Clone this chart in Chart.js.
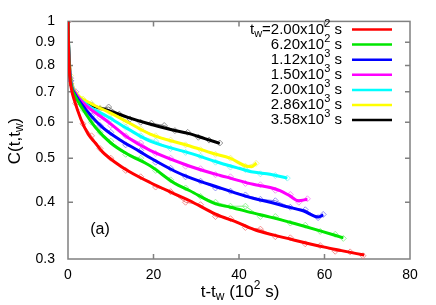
<!DOCTYPE html>
<html>
<head>
<meta charset="utf-8">
<script src="https://cdn.jsdelivr.net/npm/chart.js@4.4.1/dist/chart.umd.min.js"></script>
<style>
  html, body { margin: 0; padding: 0; background: #fff; }
  #wrap { width: 436px; height: 305px; }
</style>
</head>
<body>
<div id="wrap"><canvas id="corr"></canvas></div>
<script>
// waiting times (legend) and colours
const twMantissa = ["2.00x10", "6.20x10", "1.12x10", "1.50x10", "2.00x10", "2.86x10", "3.58x10"];
const twExponent = ["2", "2", "3", "3", "3", "3", "3"];
const lineColors = ["#ff0000", "#00e600", "#0000ff", "#ff00ff", "#00ffff", "#ffff00", "#000000"];
const dataColors = ["#f07878", "#80f080", "#7878f0", "#f080f0", "#80f0f0", "#f0f080", "#787878"];

const xTicks = [0, 20, 40, 60, 80];
const yTicks = [0.3, 0.4, 0.5, 0.6, 0.7, 0.8, 0.9, 1];

// fitted curves [t-tw (10^2 s), C]
const redFit = [[0,1],[0.15,0.86],[0.4,0.76],[0.8,0.71],[1.5,0.67],[3,0.61],[4.7,0.565],[6.4,0.54],[8,0.517],[11,0.49],[14.2,0.468],[19.2,0.442],[25,0.417],[28.5,0.403],[34.4,0.377],[40,0.36],[44,0.347],[48,0.339],[53,0.33],[59.7,0.319],[64,0.313],[69.3,0.306]];
const greenFit = [[0,1],[0.15,0.87],[0.4,0.77],[0.8,0.72],[1.5,0.69],[3.3,0.645],[6.4,0.585],[10,0.54],[14,0.51],[19.2,0.481],[25,0.44],[28.5,0.424],[34.4,0.397],[38,0.39],[43.7,0.378],[47.3,0.371],[53,0.359],[59,0.346],[64.4,0.334]];
const blueFit = [[0,1],[0.15,0.87],[0.4,0.77],[0.8,0.72],[1.5,0.695],[3.3,0.655],[8,0.585],[12,0.55],[16.8,0.517],[19.2,0.501],[25,0.468],[28.5,0.453],[35.6,0.43],[37.9,0.423],[43.3,0.408],[47.3,0.4],[51.2,0.391],[55,0.383],[58.6,0.371],[59.7,0.375]];
const magentaFit = [[0,1],[0.15,0.87],[0.4,0.78],[0.8,0.725],[1.5,0.7],[3.3,0.665],[9.4,0.601],[14,0.555],[19.2,0.52],[28.5,0.48],[35.6,0.458],[37.9,0.452],[43.3,0.438],[47.3,0.431],[49.6,0.424],[51.9,0.413],[53.9,0.403],[56,0.406]];
const cyanFit = [[0,1],[0.15,0.88],[0.4,0.78],[0.8,0.73],[1.5,0.7],[2.3,0.682],[5,0.65],[9.4,0.616],[14,0.58],[19.2,0.545],[28.5,0.513],[35.6,0.488],[40,0.475],[43.3,0.466],[47.3,0.461],[51.3,0.452]];
const yellowFit = [[0,1],[0.15,0.88],[0.4,0.79],[0.8,0.735],[1.5,0.705],[2.3,0.688],[5,0.662],[9.4,0.632],[14,0.6],[19.2,0.565],[28.5,0.532],[34,0.512],[37.9,0.5],[41.8,0.48],[43,0.479],[44.1,0.488]];
const blackFit = [[0,1],[0.15,0.88],[0.4,0.79],[0.8,0.73],[1.5,0.69],[2.3,0.672],[5,0.655],[9.4,0.637],[14,0.615],[18.7,0.596],[24,0.578],[28.1,0.567],[32,0.552],[35.5,0.539]];

// measured data (thin lines with diamonds)
const redData = [[0,1],[0.6,0.73],[1.8,0.66],[3.5,0.595],[5.5,0.56],[7.5,0.525],[10,0.5],[13.5,0.47],[17,0.455],[20.5,0.432],[24,0.422],[27.5,0.4],[31,0.395],[34.5,0.372],[38,0.368],[41.5,0.352],[45,0.349],[48.5,0.336],[52,0.334],[55.5,0.324],[59,0.321],[62.5,0.312],[66,0.311],[69,0.305]];
const greenData = [[0,1],[0.6,0.73],[1.8,0.68],[3.5,0.64],[5.5,0.6],[7.5,0.57],[10,0.545],[13.5,0.51],[17,0.5],[20.5,0.47],[24,0.448],[27.5,0.43],[31,0.412],[34.5,0.4],[38,0.392],[41.5,0.392],[45,0.372],[48.5,0.372],[52,0.36],[55.5,0.356],[59,0.345],[62.5,0.34],[64.4,0.333]];
const blueData = [[0,1],[0.6,0.74],[1.8,0.69],[3.5,0.65],[5.5,0.62],[7.5,0.59],[10,0.57],[13.5,0.535],[17,0.52],[20.5,0.49],[24,0.475],[27.5,0.455],[31,0.445],[34.5,0.43],[38,0.423],[41.5,0.415],[45,0.406],[48.5,0.403],[52,0.39],[55.5,0.385],[58.5,0.37],[59.7,0.376]];
const magentaData = [[0,1],[0.6,0.75],[1.8,0.7],[3.5,0.665],[5.5,0.635],[7.5,0.615],[10,0.59],[13.5,0.56],[17,0.54],[20.5,0.512],[24,0.5],[27.5,0.48],[31,0.474],[34.5,0.46],[38,0.455],[41.5,0.44],[45,0.437],[48.5,0.425],[52,0.416],[54,0.4],[56,0.407]];
const cyanData = [[0,1],[0.6,0.75],[1.8,0.7],[3.5,0.665],[5.5,0.645],[7.5,0.625],[10,0.61],[13.5,0.585],[17,0.56],[20.5,0.545],[24,0.525],[27.5,0.515],[31,0.505],[34.5,0.49],[38,0.478],[41.5,0.472],[45,0.462],[48.5,0.458],[51.3,0.452]];
const yellowData = [[0,1],[0.6,0.76],[1.8,0.7],[3.5,0.675],[5.5,0.66],[7.5,0.645],[10,0.628],[13.5,0.6],[17,0.58],[20.5,0.56],[24,0.548],[27.5,0.535],[31,0.522],[34.5,0.51],[38,0.5],[41.5,0.48],[44,0.487]];
const blackData = [[0,1],[0.6,0.74],[1.8,0.69],[3.5,0.665],[5.5,0.655],[7.5,0.643],[9.5,0.648],[12,0.625],[14.5,0.61],[17,0.6],[19.5,0.597],[22.5,0.59],[25,0.575],[28,0.57],[30.5,0.556],[33,0.548],[35.5,0.54]];

const fits = [redFit, greenFit, blueFit, magentaFit, cyanFit, yellowFit, blackFit];
const measured = [redData, greenData, blueData, magentaData, cyanData, yellowData, blackData];

const FONT = '"Liberation Sans", Arial, sans-serif';

const toXY = arr => arr.map(p => ({ x: p[0], y: p[1] }));

const datasets = [];
measured.forEach((d, i) => {
    datasets.push({
        data: toXY(d),
        showLine: true,
        borderColor: dataColors[i],
        borderWidth: 1,
        pointStyle: 'rectRot',
        pointRadius: 3,
        pointBorderWidth: 0.8,
        pointBorderColor: dataColors[i],
        pointBackgroundColor: 'rgba(0,0,0,0)',
        order: 2
    });
});
fits.forEach((d, i) => {
    datasets.push({
        data: toXY(d),
        showLine: true,
        borderColor: lineColors[i],
        borderWidth: 3,
        pointRadius: 0,
        cubicInterpolationMode: 'monotone',
        order: 1
    });
});

// draw text with sub/superscripts
function drawRich(ctx, parts, x, y, size, align) {
    const small = Math.round(size * 0.72);
    let w = 0;
    parts.forEach(p => {
        ctx.font = (p.s ? small : size) + 'px ' + FONT;
        w += ctx.measureText(p.t).width;
    });
    let cx = align === 'right' ? x - w : align === 'center' ? x - w / 2 : x;
    ctx.textAlign = 'left';
    ctx.textBaseline = 'middle';
    parts.forEach(p => {
        ctx.font = (p.s ? small : size) + 'px ' + FONT;
        const dy = p.s === 'sup' ? -size * 0.38 : p.s === 'sub' ? size * 0.3 : 0;
        ctx.fillText(p.t, cx, y + dy);
        cx += ctx.measureText(p.t).width;
    });
}

const framePlugin = {
    id: 'frame',
    beforeDatasetsDraw(chart) {
        const ctx = chart.ctx;
        const a = chart.chartArea;
        const xs = chart.scales.x, ys = chart.scales.y;
        ctx.save();
        ctx.strokeStyle = '#808080';
        ctx.lineWidth = 1.5;
        ctx.strokeRect(a.left, a.top, a.right - a.left, a.bottom - a.top);
        ctx.beginPath();
        xTicks.slice(1, -1).forEach(v => {
            const px = xs.getPixelForValue(v);
            ctx.moveTo(px, a.bottom); ctx.lineTo(px, a.bottom - 5);
            ctx.moveTo(px, a.top); ctx.lineTo(px, a.top + 5);
        });
        yTicks.slice(1, -1).forEach(v => {
            const py = ys.getPixelForValue(v);
            ctx.moveTo(a.left, py); ctx.lineTo(a.left + 5, py);
            ctx.moveTo(a.right, py); ctx.lineTo(a.right - 5, py);
        });
        ctx.stroke();
        ctx.restore();
    },
    afterDraw(chart) {
        const ctx = chart.ctx;
        ctx.save();
        ctx.fillStyle = '#000';
        // legend
        twMantissa.forEach((m, i) => {
            const y = 29.5 + i * 15.1;
            const parts = i === 0
                ? [{ t: 't' }, { t: 'w', s: 'sub' }, { t: '=' + m }, { t: twExponent[i], s: 'sup' }, { t: ' s' }]
                : [{ t: m }, { t: twExponent[i], s: 'sup' }, { t: ' s' }];
            drawRich(ctx, parts, 342, y, 15, 'right');
            ctx.strokeStyle = lineColors[i];
            ctx.lineWidth = 2.5;
            ctx.beginPath();
            ctx.moveTo(352, y); ctx.lineTo(392, y);
            ctx.stroke();
        });
        // axis titles
        drawRich(ctx, [{ t: 't-t' }, { t: 'w', s: 'sub' }, { t: ' (10' }, { t: '2', s: 'sup' }, { t: ' s)' }], 240, 292, 17, 'center');
        ctx.save();
        ctx.translate(15, 141);
        ctx.rotate(-Math.PI / 2);
        drawRich(ctx, [{ t: 'C(t,t' }, { t: 'w', s: 'sub' }, { t: ')' }], 0, 0, 17, 'center');
        ctx.restore();
        drawRich(ctx, [{ t: '(a)' }], 100, 230, 16, 'center');
        ctx.restore();
    }
};

const chart = new Chart(document.getElementById('corr'), {
    type: 'scatter',
    data: { datasets: datasets },
    options: {
        responsive: true,
        maintainAspectRatio: false,
        animation: false,
        devicePixelRatio: 1,
        layout: { padding: { left: 0, top: 18, right: 26, bottom: 0 } },
        plugins: {
            legend: { display: false },
            tooltip: { enabled: false }
        },
        scales: {
            x: {
                type: 'linear',
                min: 0,
                max: 80,
                afterBuildTicks: s => { s.ticks = xTicks.map(v => ({ value: v })); },
                afterFit: s => { s.height = 46; },
                grid: { display: false, drawTicks: false },
                border: { display: false },
                ticks: { color: '#000', padding: 8, font: { size: 14, family: FONT } }
            },
            y: {
                type: 'logarithmic',
                min: 0.3,
                max: 1,
                afterBuildTicks: s => { s.ticks = yTicks.map(v => ({ value: v })); },
                afterFit: s => { s.width = 68; },
                grid: { display: false, drawTicks: false },
                border: { display: false },
                ticks: {
                    color: '#000',
                    padding: 13,
                    font: { size: 14, family: FONT },
                    callback: v => String(+v.toFixed(1))
                }
            }
        }
    },
    plugins: [framePlugin]
});
</script>
</body>
</html>
